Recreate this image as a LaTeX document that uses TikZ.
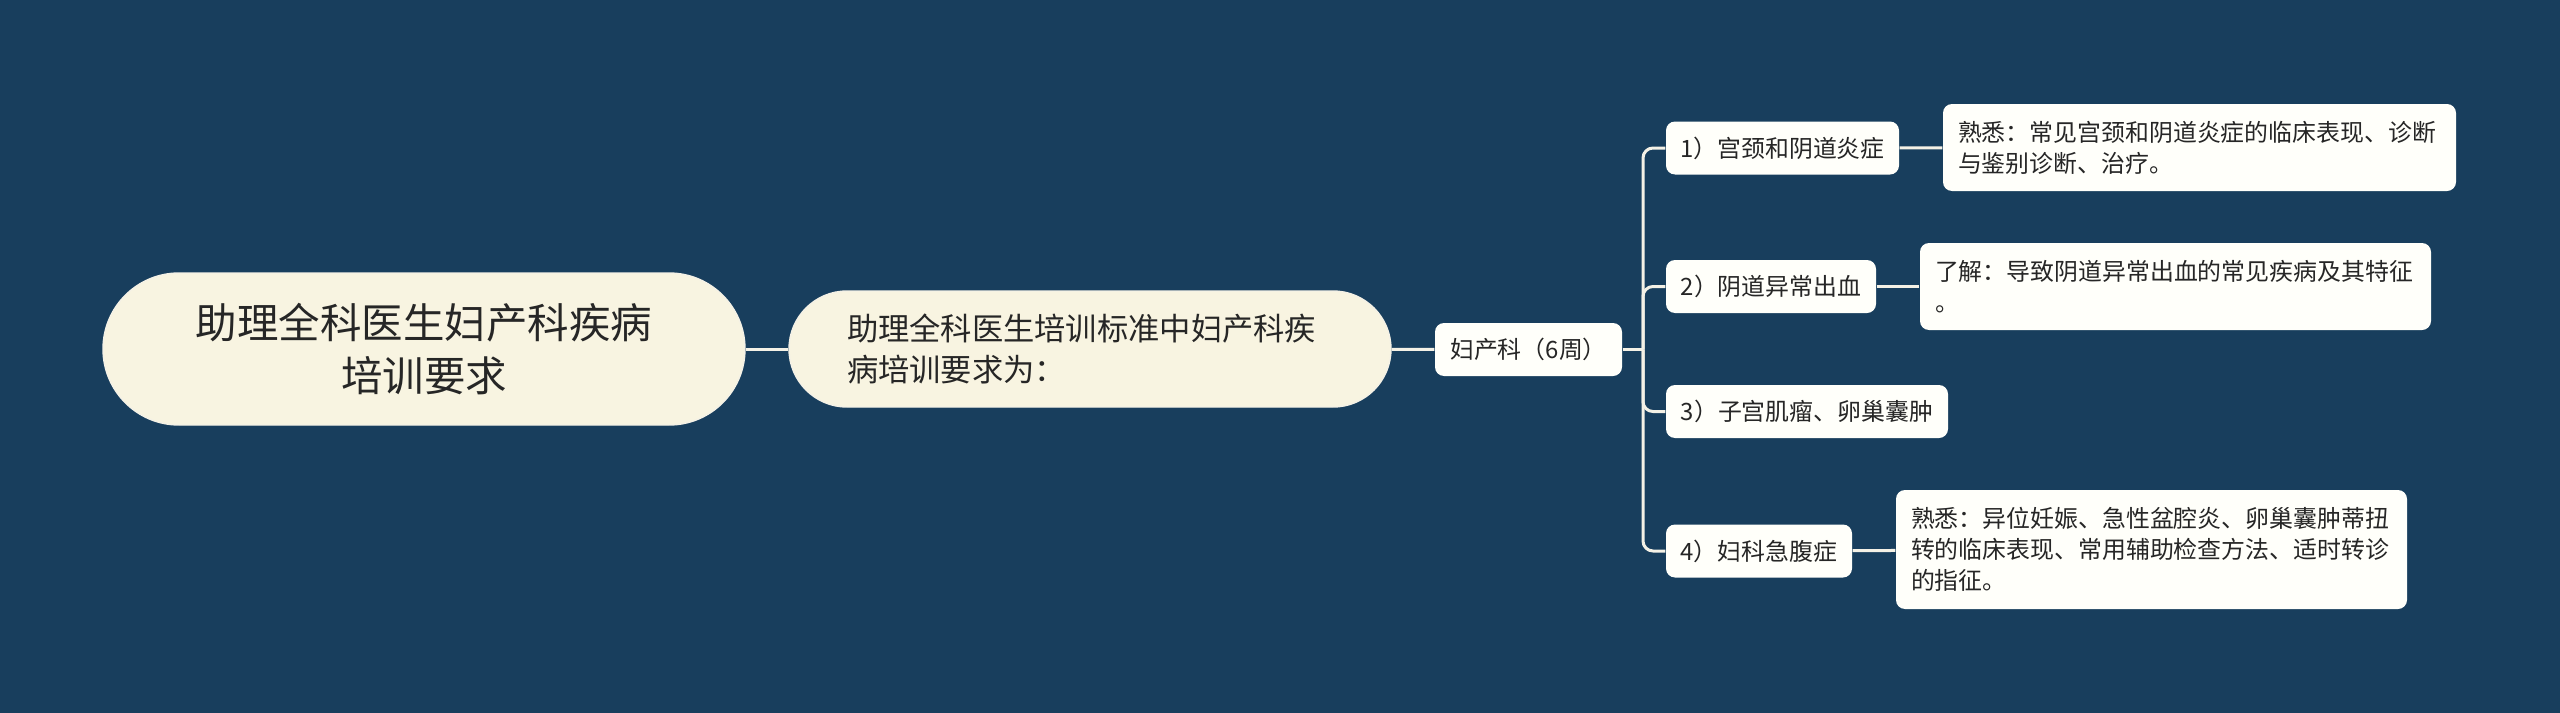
\documentclass[tikz,border=0pt]{standalone}
\usepackage{fontspec}
\setmainfont{Noto Sans CJK SC}
\definecolor{bg}{HTML}{183E5D}
\definecolor{cream}{HTML}{F8F4E1}
\definecolor{paper}{HTML}{FFFFFA}
\definecolor{wire}{HTML}{F4F1E6}
\begin{document}
\begin{tikzpicture}[x=1cm,y=1cm,
  root/.style = {draw=wire, fill=cream, rounded corners=0.76cm, minimum width=6.42cm, minimum height=1.52cm, align=center, font=\fontsize{11.8}{15.3}\selectfont, text=black!85},
  req/.style = {draw=wire, fill=cream, rounded corners=0.58cm, minimum width=6.02cm, minimum height=1.16cm, text width=4.86cm, align=left, font=\fontsize{8.9}{11.6}\selectfont, text=black!85},
  tag/.style = {fill=paper, rounded corners=0.09cm, minimum height=0.53cm, inner xsep=0.13cm, font=\fontsize{6.8}{8.8}\selectfont, text=black!85},
  note/.style = {fill=paper, rounded corners=0.09cm, inner xsep=0.15cm, align=left, font=\fontsize{6.8}{8.8}\selectfont, text=black!85},
  link/.style = {draw=wire, line width=0.03cm}]
  \useasboundingbox[fill=bg] (0,0) rectangle (25.6,-7.13);

  \node[root] (root) at (4.24,-3.49) {助理全科医生妇产科疾病\\培训要求};
  \node[req] (req) at (10.90,-3.49) {助理全科医生培训标准中妇产科疾\\病培训要求为：};
  \node[tag, minimum width=1.87cm] (hub) at (15.285,-3.495) {妇产科（6周）};
  \coordinate (bx) at (16.43,-3.495);

  \node[tag, minimum width=2.33cm] (1) at (17.825,-1.48) {1）宫颈和阴道炎症};
  \node[tag, minimum width=2.10cm] (2) at (17.71,-2.865) {2）阴道异常出血};
  \node[tag, minimum width=2.82cm] (3) at (18.07,-4.115) {3）子宫肌瘤、卵巢囊肿};
  \node[tag, minimum width=1.86cm] (4) at (17.59,-5.51) {4）妇科急腹症};

  \node[note, text width=4.83cm, minimum height=0.87cm] (1a) at (21.995,-1.475) {熟悉：常见宫颈和阴道炎症的临床表现、诊断\\与鉴别诊断、治疗。};
  \node[note, text width=4.81cm, minimum height=0.87cm] (2a) at (21.755,-2.865) {了解：导致阴道异常出血的常见疾病及其特征\\。};
  \node[note, text width=4.81cm, minimum height=1.19cm] (4a) at (21.515,-5.495) {熟悉：异位妊娠、急性盆腔炎、卵巢囊肿蒂扭\\转的临床表现、常用辅助检查方法、适时转诊\\的指征。};

  \draw[link] (root) -- (req);
  \draw[link] (req) -- (hub);
  \draw[link] (hub.east) -- (bx);
  \foreach \n in {1,2,3,4}
    \draw[link, rounded corners=0.1cm] (bx) |- (\n.west);
  \draw[link] (1) -- (1a);
  \draw[link] (2) -- (2a);
  \draw[link] (4) -- (4a);
\end{tikzpicture}
\end{document}
